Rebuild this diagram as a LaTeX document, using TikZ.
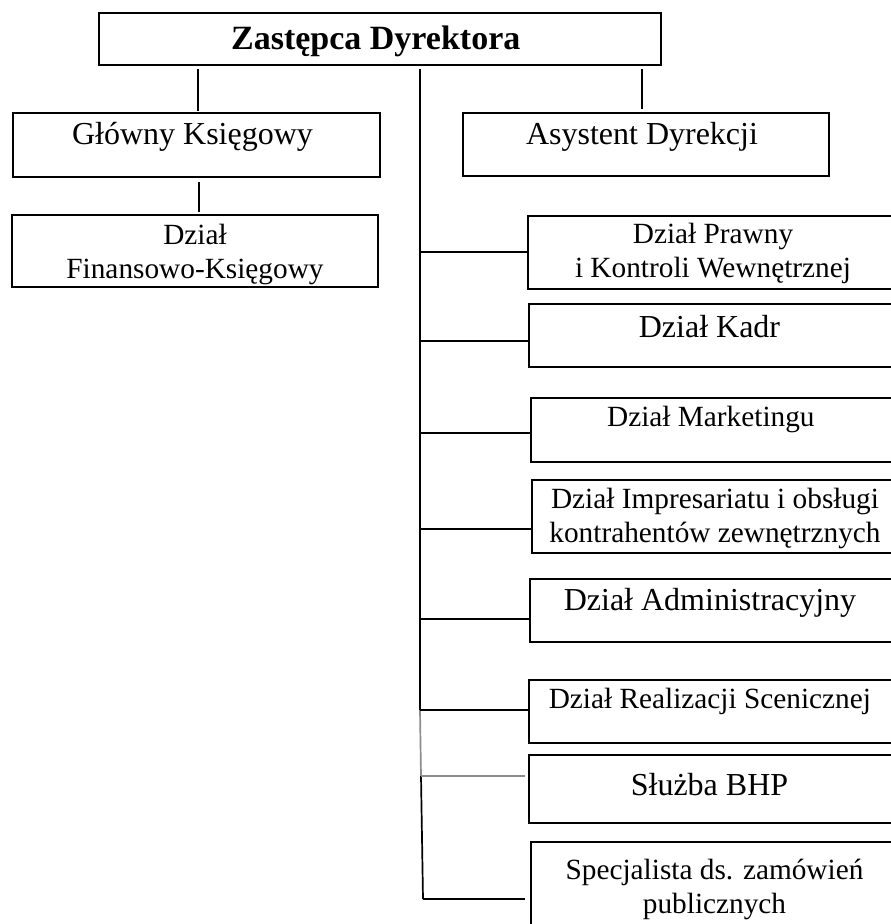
\documentclass[tikz,border=0pt]{standalone}
\usepackage{fontspec}
\setmainfont{Liberation Serif}
\definecolor{linkgray}{gray}{0.55}

\begin{document}
\begin{tikzpicture}[x=1pt, y=-1pt,
    box/.style = { draw, line width = 1.7pt, anchor = north west, inner sep = 0pt, outer sep = 0pt, align = center },
    big/.style = { font = \fontsize{32}{36}\selectfont },
    small/.style = { font = \fontsize{29.3}{33.5}\selectfont },
    link/.style = { line width = 1.7pt },
    stub/.style = { line width = 1.3pt }]
    \useasboundingbox (0,0) rectangle (891,924);

    \node [box, font = \bfseries\fontsize{34}{40}\selectfont, minimum width = 562pt, text height = 36pt, text depth = 16pt] (dyr) at (99,13) { Zastępca Dyrektora };

    \node [box, big, minimum width = 367pt, text height = 31pt, text depth = 33pt] (glowny) at (13,113) { Główny Księgowy };
    \node [box, big, minimum width = 366pt, text height = 31pt, text depth = 32pt] (asyst) at (463,113) { Asystent Dyrekcji };
    \node [box, small, minimum width = 366pt, text height = 63pt, text depth = 9pt] (finans) at (12,215) { Dział \\ Finansowo-Księgowy };

    \node [box, small, minimum width = 370pt, text height = 61pt, text depth = 12pt] (prawny) at (528,216) { Dział Prawny \\ i Kontroli Wewnętrznej };
    \node [box, big, minimum width = 369pt, text height = 33pt, text depth = 30pt] (kadr) at (529,304) { Dział Kadr };
    \node [box, small, minimum width = 367pt, text height = 28pt, text depth = 36pt] (market) at (531,398) { Dział Marketingu };
    \node [box, small, minimum width = 366pt, text height = 62pt, text depth = 11pt] (impres) at (532,480) { Dział Impresariatu i obsługi \\ kontrahentów zewnętrznych };
    \node [box, big, minimum width = 368pt, text height = 31pt, text depth = 32pt] (admin) at (530,579) { Dział Administracyjny };
    \node [box, small, minimum width = 369pt, text height = 28pt, text depth = 35pt] (realiz) at (529,680) { Dział Realizacji Scenicznej };
    \node [box, big, minimum width = 369pt, text height = 40pt, text depth = 28pt] (bhp) at (529,755) { Służba BHP };
    \node [box, small, minimum width = 367pt, text height = 71pt, text depth = 22pt] (specj) at (531,842) { Specjalista ds. zamówień \\ publicznych };

    % short lines under the top box
    \draw [stub, shorten <= 4pt, shorten >= 2pt] (dyr.south -| 198,0) -- (glowny.north -| 198,0);
    \draw [stub, shorten <= 4pt, shorten >= 4pt] (dyr.south -| 642,0) -- (asyst.north -| 642,0);
    \draw [stub, shorten <= 5pt, shorten >= 3pt] (glowny.south -| 199,0) -- (finans.north -| 199,0);

    % trunk
    \coordinate (trunk) at (420,69);
    \coordinate (bend) at (421,776);
    \coordinate (trunkend) at (423,899);
    \draw [link] (trunk) -- (420,710);
    \draw [link, linkgray] (420,710) -- (bend);
    \draw [link] (bend) -- (trunkend);

    \foreach \n/\y in {prawny/252, kadr/341, market/433, impres/529, admin/619, realiz/710} {
      \coordinate (h) at (0,\y);
      \draw [link] (trunk |- h) -- (\n.west |- h);
    }
    \draw [link, linkgray] (bend) -- ([xshift = -4pt] bhp.west |- bend);
    \draw [link] (trunkend) -- ([xshift = -6pt] specj.west |- trunkend);
\end{tikzpicture}
\end{document}
